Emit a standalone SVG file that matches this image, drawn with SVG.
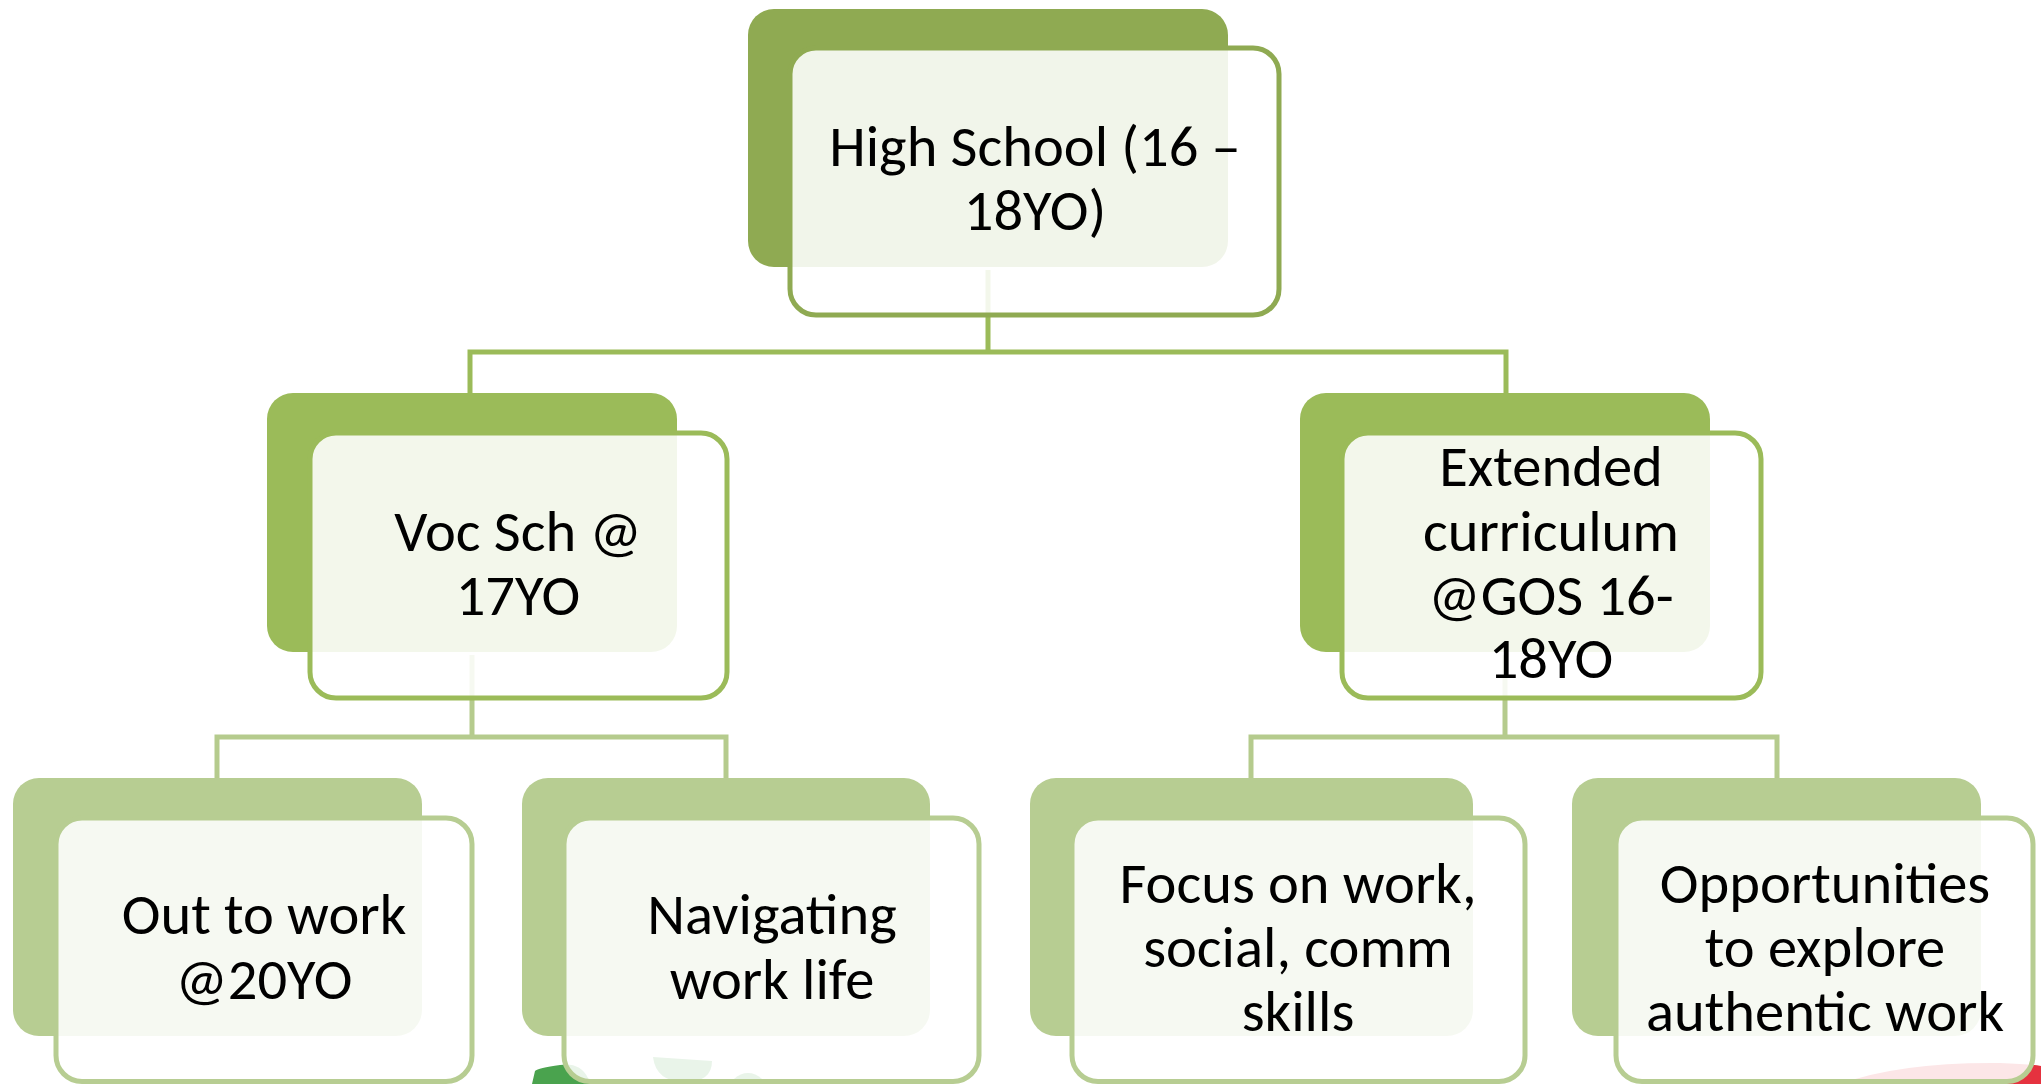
<svg xmlns="http://www.w3.org/2000/svg" width="2041" height="1084" viewBox="0 0 2041 1084">
<style>
.t{font-family:Carlito,Calibri,Lato,"Liberation Sans",sans-serif;font-size:58.5px;fill:#000;text-anchor:middle}
.f{fill:#fff;fill-opacity:0.88;stroke-width:5}
.c{fill:none;stroke-width:5}
</style>
<rect width="2041" height="1084" fill="#fff"/>
<g id="decor">
<path d="M532,1084 L535,1071 Q538,1068 560,1065 Q580,1062 588,1078 L590,1084 Z" fill="#4AA34E"/>
<path d="M653,1057 L712,1061 Q712,1082 685,1082 Q656,1082 653,1057 Z" fill="#4AA34E"/>
<ellipse cx="748" cy="1092" rx="19" ry="19" fill="#4AA34E"/>
<path d="M1840,1084 Q1900,1062 2000,1063 Q2030,1064 2041,1066 L2041,1084 Z" fill="#E5323F"/>
</g>
<g id="backs">
<rect x="748" y="9" width="480" height="258" rx="26" fill="#8FAA52"/>
<rect x="267" y="393" width="410" height="259" rx="26" fill="#9BBB59"/>
<rect x="1300" y="393" width="410" height="259" rx="26" fill="#9BBB59"/>
<rect x="13" y="778" width="409" height="258" rx="26" fill="#B7CD92"/>
<rect x="522" y="778" width="408" height="258" rx="26" fill="#B7CD92"/>
<rect x="1030" y="778" width="443" height="258" rx="26" fill="#B7CD92"/>
<rect x="1572" y="778" width="409" height="258" rx="26" fill="#B7CD92"/>
</g>
<g id="connectors">
<path class="c" stroke="#9BBB59" d="M988,270 V352 M470,352 H1506 M470,349.5 V393 M1506,349.5 V393"/>
<path class="c" stroke="#B5CB8D" d="M472,655 V737 M217,737 H726 M217,734.5 V778 M726,734.5 V778"/>
<path class="c" stroke="#B5CB8D" d="M1505,655 V737 M1251,737 H1777 M1251,734.5 V778 M1777,734.5 V778"/>
</g>
<g id="n1"><rect class="f" x="790" y="48" width="489" height="267" rx="26" stroke="#8FAA52"/>
<text class="t"><tspan x="1035" y="166">High School (16 –</tspan><tspan x="1035" y="230">18YO)</tspan></text></g>
<g id="n2"><rect class="f" x="310" y="433" width="417" height="265" rx="26" stroke="#9BBB59"/>
<text class="t"><tspan x="518" y="551">Voc Sch @</tspan><tspan x="518" y="615">17YO</tspan></text></g>
<g id="n3"><rect class="f" x="1342" y="433" width="419" height="265" rx="26" stroke="#9BBB59"/>
<text class="t"><tspan x="1551" y="486">Extended</tspan><tspan x="1551" y="551">curriculum</tspan><tspan x="1551" y="615">@GOS 16-</tspan><tspan x="1551" y="678">18YO</tspan></text></g>
<g id="n4"><rect class="f" x="56" y="818" width="416" height="263.5" rx="26" stroke="#B7CD92"/>
<text class="t"><tspan x="264" y="934">Out to work</tspan><tspan x="264" y="999">@20YO</tspan></text></g>
<g id="n5"><rect class="f" x="564" y="818" width="415" height="263.5" rx="26" stroke="#B7CD92"/>
<text class="t"><tspan x="772" y="934">Navigating</tspan><tspan x="772" y="999">work life</tspan></text></g>
<g id="n6"><rect class="f" x="1072" y="818" width="453" height="263.5" rx="26" stroke="#B7CD92"/>
<text class="t"><tspan x="1298" y="903">Focus on work,</tspan><tspan x="1298" y="967">social, comm</tspan><tspan x="1298" y="1031">skills</tspan></text></g>
<g id="n7"><rect class="f" x="1616" y="818" width="417" height="263.5" rx="26" stroke="#B7CD92"/>
<text class="t"><tspan x="1825" y="903">Opportunities</tspan><tspan x="1825" y="967">to explore</tspan><tspan x="1825" y="1031">authentic work</tspan></text></g>
</svg>
